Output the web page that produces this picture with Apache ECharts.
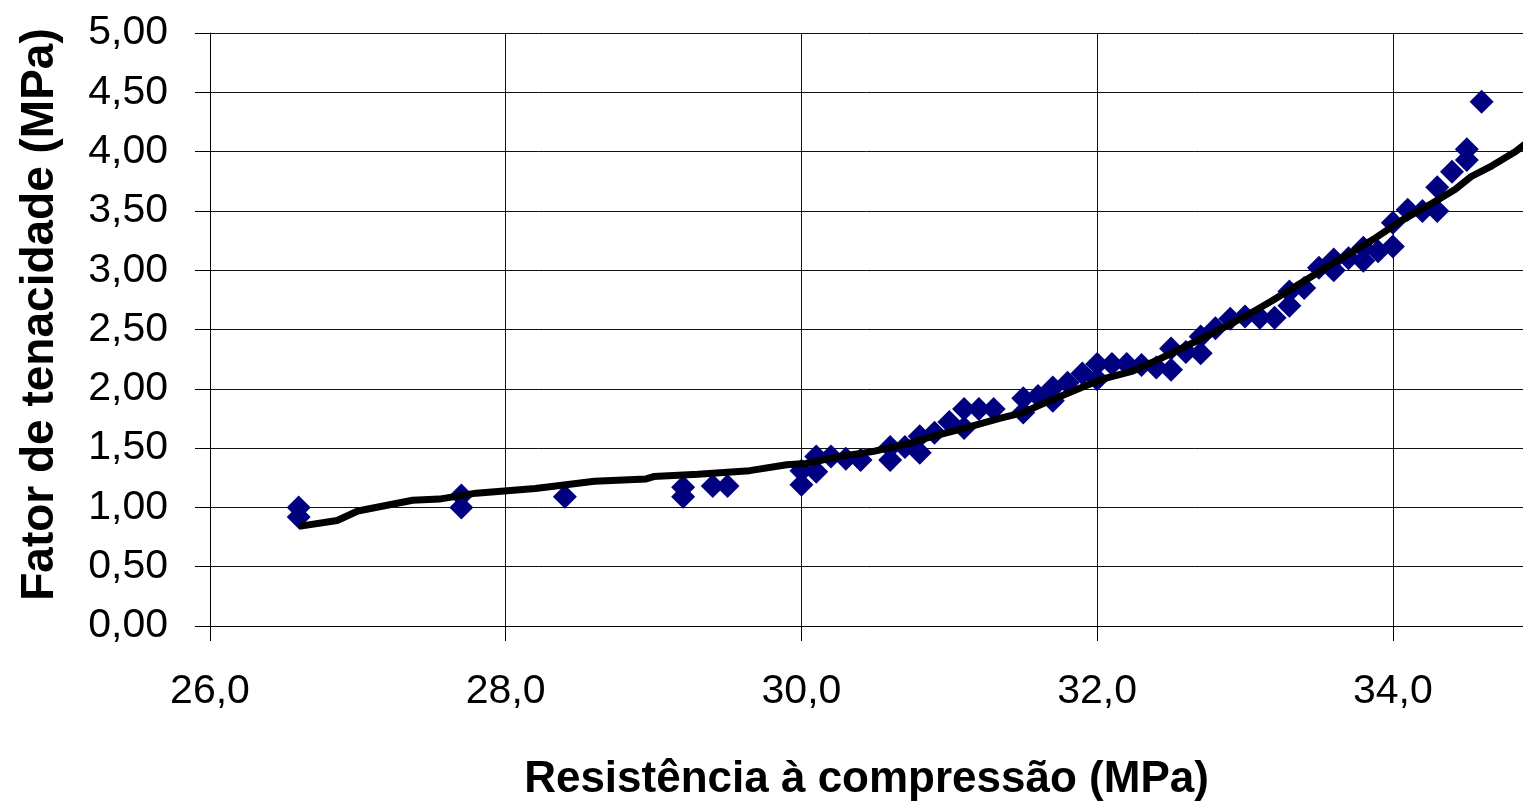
<!DOCTYPE html>
<html>
<head>
<meta charset="utf-8">
<script src="https://cdn.jsdelivr.net/npm/echarts@6/dist/echarts.min.js"></script>
<style>
html,body{margin:0;padding:0;background:#fff;overflow:hidden;}
#chart{width:1523px;height:807px;}
</style>
</head>
<body>
<div id="chart"></div>
<script>
// Measured points (Resistência à compressão, Fator de tenacidade)
const pointX = [26.6,26.6,27.7,27.7,28.4,29.2,29.2,29.4,29.5,30.0,30.0,30.1,30.1,30.2,30.3,30.4,30.6,30.6,30.7,30.8,30.8,30.9,31.0,31.1,31.1,31.2,31.3,31.5,31.5,31.6,31.7,31.7,31.8,31.9,32.0,32.0,32.1,32.2,32.3,32.4,32.5,32.5,32.6,32.7,32.7,32.8,32.9,33.0,33.1,33.2,33.3,33.3,33.4,33.5,33.6,33.6,33.7,33.8,33.8,33.9,34.0,34.0,34.1,34.2,34.3,34.3,34.4,34.5,34.5,34.6];
const pointY = [1.00,0.92,1.10,1.00,1.09,1.17,1.09,1.18,1.18,1.19,1.31,1.43,1.30,1.43,1.41,1.40,1.51,1.40,1.51,1.60,1.46,1.63,1.72,1.83,1.67,1.83,1.83,1.92,1.80,1.94,2.01,1.90,2.05,2.13,2.21,2.08,2.21,2.21,2.20,2.18,2.34,2.16,2.31,2.44,2.30,2.51,2.59,2.61,2.60,2.60,2.82,2.70,2.85,3.02,3.09,3.00,3.10,3.19,3.08,3.16,3.40,3.20,3.51,3.50,3.70,3.50,3.83,4.02,3.93,4.42];
// Trend (moving average) line
const trendX = [26.6,26.86,27.0,27.37,27.55,27.8,28.2,28.6,28.95,29.0,29.3,29.65,29.9,30.03,30.26,30.48,30.73,30.89,31.11,31.34,31.5,31.68,31.93,32.06,32.24,32.42,32.57,32.78,33.0,33.18,33.39,33.61,33.88,34.06,34.26,34.42,34.53,34.67,34.83,34.95];
const trendY = [0.84,0.89,0.97,1.06,1.07,1.12,1.16,1.22,1.24,1.26,1.28,1.31,1.36,1.37,1.43,1.47,1.54,1.60,1.67,1.75,1.80,1.90,2.03,2.09,2.15,2.25,2.34,2.47,2.61,2.74,2.90,3.07,3.27,3.42,3.56,3.68,3.79,3.88,4.00,4.12];

const xName = 'Resistência à compressão (MPa)';
const yName = 'Fator de tenacidade (MPa)';

const FONT = "'Liberation Sans', Arial, sans-serif";
const chart = echarts.init(document.getElementById('chart'), null, {width: 1523, height: 807});
chart.setOption({
  animation: false,
  backgroundColor: '#fff',
  grid: {left: 210, top: 33, bottom: 174, right: 0, containLabel: false},
  xAxis: {
    type: 'value', min: 26, max: 34.88, interval: 2,
    name: xName, nameLocation: 'middle', nameGap: 132,
    nameTextStyle: {fontFamily: FONT, fontSize: 44, fontWeight: 'bold', color: '#000'},
    axisLine: {show: true, onZero: false, lineStyle: {color: '#000', width: 1}},
    axisTick: {show: true, inside: false, length: 15, lineStyle: {color: '#000', width: 1}},
    axisLabel: {fontFamily: FONT, fontSize: 41, color: '#000', margin: 45, showMaxLabel: false,
      formatter: v => (Math.abs(v / 2 - Math.round(v / 2)) < 1e-9) ? v.toFixed(1).replace('.', ',') : ''},
    splitLine: {show: true, lineStyle: {color: '#111', width: 1}}
  },
  yAxis: {
    type: 'value', min: 0, max: 5, interval: 0.5,
    name: yName, nameLocation: 'middle', nameGap: 147,
    nameTextStyle: {fontFamily: FONT, fontSize: 46, fontWeight: 'bold', color: '#000', padding: [0, 0, 0, 30]},
    axisLine: {show: true, lineStyle: {color: '#000', width: 1}},
    axisTick: {show: true, inside: false, length: 15, lineStyle: {color: '#000', width: 1}},
    axisLabel: {fontFamily: FONT, fontSize: 41, color: '#000', margin: 42,
      formatter: v => v.toFixed(2).replace('.', ',')},
    splitLine: {show: true, lineStyle: {color: '#111', width: 1}}
  },
  series: [
    {
      type: 'scatter', symbol: 'diamond', symbolSize: 24,
      itemStyle: {color: '#000080', opacity: 1},
      data: pointX.map((x, i) => [x, pointY[i]]),
      z: 2
    },
    {
      type: 'line', showSymbol: false, symbol: 'none', clip: true,
      lineStyle: {color: '#000', width: 7},
      data: trendX.map((x, i) => [x, trendY[i]]),
      z: 3
    }
  ]
});
</script>
</body>
</html>
